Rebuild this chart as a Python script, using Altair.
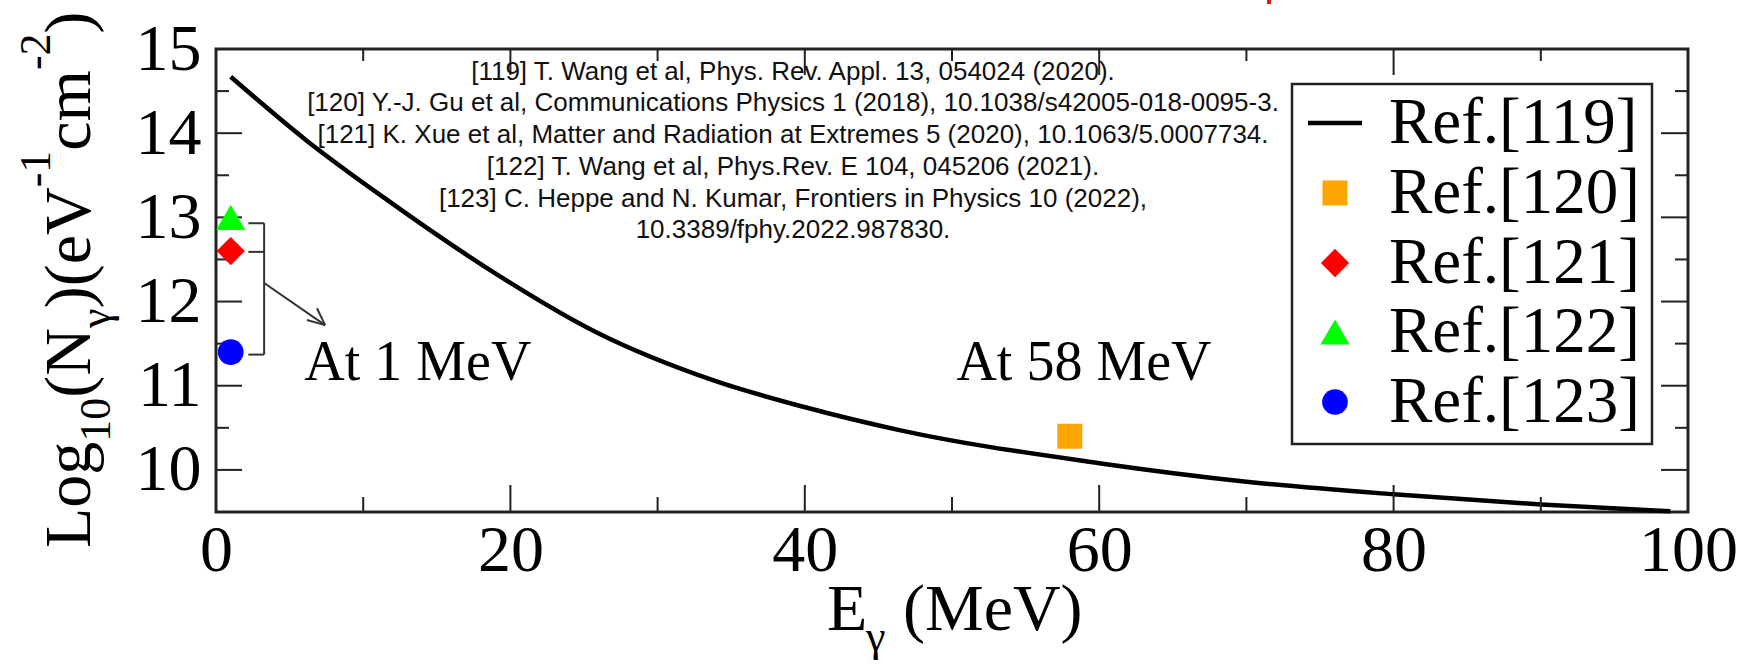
import altair as alt
import pandas as pd

# ---------------- data ----------------
E_curve = [1.0, 6.1, 11.6, 18.3, 25.9, 33.7, 39.9, 46.5, 60.0, 70.0, 80.0, 90.0, 98.8]
N_curve = [14.67, 13.92, 13.21, 12.41, 11.63, 11.07, 10.75, 10.47, 10.08, 9.86, 9.71, 9.59, 9.51]

pt_E = [58, 1, 1, 1]
pt_N = [10.4, 12.6, 13.0, 11.4]
pt_shape = ["square", "diamond", "triangle-up", "circle"]
pt_color = ["#FFA500", "#FF0000", "#00FF00", "#0000FF"]
pt_size = [625, 800, 850, 660]

legend_labels = ["Ref.[119]", "Ref.[120]", "Ref.[121]", "Ref.[122]", "Ref.[123]"]

x_major = [0, 20, 40, 60, 80, 100]
x_minor = [10, 30, 50, 70, 90]
y_major = [10, 11, 12, 13, 14, 15]
y_minor = [10.5, 11.5, 12.5, 13.5, 14.5]

citations = [
    "[119] T. Wang et al, Phys. Rev. Appl. 13, 054024 (2020).",
    "[120] Y.-J. Gu et al, Communications Physics 1 (2018), 10.1038/s42005-018-0095-3.",
    "[121] K. Xue et al, Matter and Radiation at Extremes 5 (2020), 10.1063/5.0007734.",
    "[122] T. Wang et al, Phys.Rev. E 104, 045206 (2021).",
    "[123] C. Heppe and N. Kumar, Frontiers in Physics 10 (2022),",
    "10.3389/fphy.2022.987830.",
]

ann_text = ["At 1 MeV", "At 58 MeV"]
ann_x = [6.0, 50.3]
ann_y = [11.07, 11.07]

# bracket + arrow (data units)
br_x = [3.27, 2.2, 2.2, 2.2, 3.27, 7.41, 7.41]
br_y = [12.93, 12.93, 12.59, 11.37, 12.22, 11.72, 11.72]
br_x2 = [3.27, 3.27, 3.27, 3.27, 7.41, 6.18, 6.86]
br_y2 = [11.37, 12.93, 12.59, 11.37, 11.72, 11.78, 11.92]

# ---------------- layout / style ----------------
W, H = 1472, 463
SERIF = "Liberation Serif"
SANS = "Liberation Sans"
FRAME = "#222222"

xs = alt.Scale(domain=[0, 100], nice=False, zero=False)
ys = alt.Scale(domain=[9.5, 15], nice=False, zero=False)

x_axis = alt.Axis(values=x_major, title=None, ticks=False, tickSize=0, domain=False, grid=False,
                  labelFont=SERIF, labelFontSize=66, labelColor="black", labelPadding=6,
                  labelFlush=False, labelOverlap=False, format="d")
y_axis = alt.Axis(values=y_major, title=None, ticks=False, tickSize=0, domain=False, grid=False,
                  labelFont=SERIF, labelFontSize=66, labelColor="black", labelPadding=15,
                  labelOverlap=False, format="d")

def X(field):
    return alt.X(field, scale=xs, axis=x_axis, title=None)

def Y(field):
    return alt.Y(field, scale=ys, axis=y_axis, title=None)

layers = []

curve_df = pd.DataFrame({"E": E_curve, "N": N_curve})
layers.append(
    alt.Chart(curve_df).mark_line(color="black", strokeWidth=4.5, interpolate="monotone").encode(
        x=X("E:Q"), y=Y("N:Q"))
)

# inward ticks on all four sides
def xticks(vals, y0, y1):
    return alt.Chart(pd.DataFrame({"v": vals})).mark_rule(color=FRAME, strokeWidth=2).encode(
        x=X("v:Q"), y=alt.value(y0), y2=alt.value(y1))

def yticks(vals, x0, x1):
    return alt.Chart(pd.DataFrame({"v": vals})).mark_rule(color=FRAME, strokeWidth=2).encode(
        y=Y("v:Q"), x=alt.value(x0), x2=alt.value(x1))

layers += [
    xticks(x_major, H, H - 27), xticks(x_minor, H, H - 15),
    xticks(x_major, 0, 26), xticks(x_minor, 0, 12),
    yticks(y_major, 0, 26), yticks(y_minor, 0, 13),
    yticks(y_major, W, W - 27), yticks(y_minor, W, W - 13),
]

# bracket and arrow
br_df = pd.DataFrame({"x": br_x, "y": br_y, "x2": br_x2, "y2": br_y2})
layers.append(
    alt.Chart(br_df).mark_rule(color="#333333", strokeWidth=2).encode(
        x=X("x:Q"), y=Y("y:Q"), x2="x2:Q", y2="y2:Q")
)

# data points
pt_df = pd.DataFrame({"E": pt_E, "N": pt_N, "shape": pt_shape, "color": pt_color, "size": pt_size})
layers.append(
    alt.Chart(pt_df).mark_point(filled=True, opacity=1, strokeWidth=0).encode(
        x=X("E:Q"), y=Y("N:Q"),
        shape=alt.Shape("shape:N", scale=None), color=alt.Color("color:N", scale=None),
        size=alt.Size("size:Q", scale=None))
)

# annotations
ann_df = pd.DataFrame({"x": ann_x, "y": ann_y, "t": ann_text})
layers.append(
    alt.Chart(ann_df).mark_text(font=SERIF, fontSize=56, align="left", baseline="alphabetic", color="black").encode(
        x=X("x:Q"), y=Y("y:Q"), text="t:N")
)

# citations text block
dummy = pd.DataFrame({"a": [0]})
cit_y = [23, 54, 86, 118, 150, 181]
for t, yy in zip(citations, cit_y):
    layers.append(alt.Chart(dummy).mark_text(text=t, font=SANS, fontSize=26, align="center",
                                             baseline="middle", color="#111111").encode(
        x=alt.value(577), y=alt.value(yy)))

# legend box
layers.append(alt.Chart(dummy).mark_rect(fill="white", stroke=FRAME, strokeWidth=2.5).encode(
    x=alt.value(1076), x2=alt.value(1436), y=alt.value(35), y2=alt.value(395)))
rows = [74, 144, 214, 283, 353]
layers.append(alt.Chart(dummy).mark_rule(color="black", strokeWidth=4.5).encode(
    x=alt.value(1092), x2=alt.value(1146), y=alt.value(rows[0])))
for i in range(4):
    layers.append(alt.Chart(dummy).mark_point(filled=True, opacity=1, strokeWidth=0, shape=pt_shape[i],
                                              color=pt_color[i], size=pt_size[i]).encode(
        x=alt.value(1119), y=alt.value(rows[i + 1])))
for lab, r in zip(legend_labels, rows):
    layers.append(alt.Chart(dummy).mark_text(text=lab, font=SERIF, fontSize=65, align="left",
                                             baseline="alphabetic", color="black").encode(
        x=alt.value(1173), y=alt.value(r + 20)))

# y-axis title built from pieces (sub/superscripts)
F, S = 66, 44
ytitle = [("Log", F, -126, 1.611), ("10", S, -106, 1.0), ("(N", F, -126, 1.055), ("\u03b3", S, -106, 0.45),
          (")(eV", F, -126, 1.832), ("-1", S, -166, 0.833), ("cm", F, -126, 1.222), ("-2", S, -166, 0.833),
          (")", F, -126, 0.333)]
ycur = 499.0
for t, fs, bx, em in ytitle:
    layers.append(alt.Chart(dummy).mark_text(text=t, font=SERIF, fontSize=fs, angle=270, align="left",
                                             baseline="alphabetic", color="black").encode(
        x=alt.value(bx), y=alt.value(ycur)))
    ycur -= em * fs

# x-axis title pieces
xtitle = [("E", F, 611, 581), ("\u03b3", S, 650, 602), ("(MeV)", F, 687, 581)]
for t, fs, px, py in xtitle:
    layers.append(alt.Chart(dummy).mark_text(text=t, font=SERIF, fontSize=fs, align="left",
                                             baseline="alphabetic", color="black").encode(
        x=alt.value(px), y=alt.value(py)))

# small red mark at the top edge
layers.append(alt.Chart(dummy).mark_rect(color="#d42020").encode(
    x=alt.value(1051), x2=alt.value(1055), y=alt.value(-49), y2=alt.value(-45)))

chart = alt.layer(*layers).properties(
    width=W, height=H,
    autosize=alt.AutoSizeParams(type="none"),
    padding={"left": 216, "top": 49, "right": 61, "bottom": 155},
    background="white",
).configure_view(stroke=FRAME, strokeWidth=3)

chart.save("out.html", embed_options={"renderer": "svg", "actions": False})
